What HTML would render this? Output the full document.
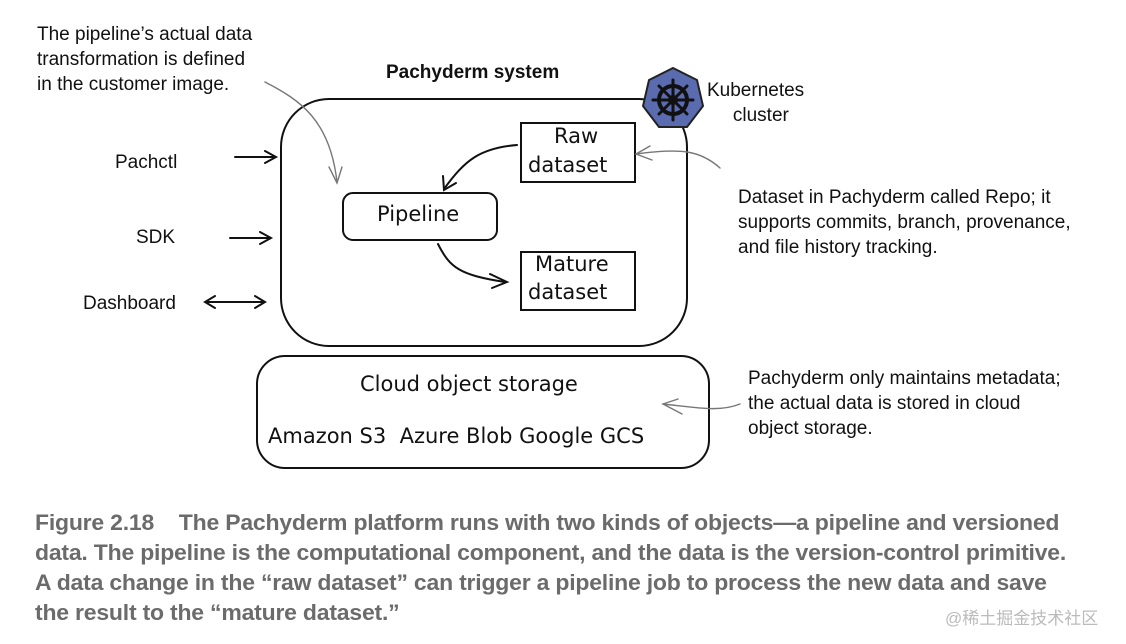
<!DOCTYPE html>
<html><head><meta charset="utf-8"><style>
body{margin:0;background:#fff;width:1126px;height:644px;overflow:hidden;position:relative;font-family:"Liberation Sans",sans-serif;}
.t{position:absolute;font-size:19px;color:#111;line-height:25px;white-space:nowrap}
.h{position:absolute;font-family:"DejaVu Sans",sans-serif;font-size:21px;color:#111;white-space:nowrap}
.cap{position:absolute;left:35px;font-weight:bold;font-size:22px;color:#6b6b6b;white-space:nowrap;transform-origin:0 0;transform:scaleX(1.045);letter-spacing:-0.2px}
</style></head><body>
<svg width="1126" height="644" style="position:absolute;left:0;top:0" fill="none" stroke="#111" stroke-width="2" stroke-linecap="round">
<rect x="281" y="99" width="406" height="247" rx="48"/>
<rect x="521" y="123" width="114" height="59"/>
<rect x="343" y="193" width="154" height="47" rx="10"/>
<rect x="521" y="252" width="114" height="58"/>
<rect x="257" y="356" width="452" height="112" rx="28"/>
<path d="M517 145 C480 148 465 160 444 189"/><path d="M443 176 L444 190 L456 183"/>
<path d="M438 244 C450 268 460 275 505 282"/><path d="M490 274 L507 282 L492 288"/>
<path d="M235 157 L275 157 M265 151 L276 157 L265 163"/>
<path d="M230 238 L270 238 M260 232 L271 238 L260 244"/>
<path d="M205 302 L265 302 M215 296 L205 302 L215 308 M255 296 L265 302 L255 308"/>
<g stroke="#777" stroke-width="1.4">
<path d="M265 82 C300 100 330 120 337 182"/><path d="M329 167 L337 183 L342 167"/>
<path d="M720 168 C700 150 680 148 636 154"/><path d="M650 146 L636 154 L652 160"/>
<path d="M740 404 C720 412 700 408 663 404"/><path d="M678 399 L663 404 L682 414"/>
</g>
<polygon points="673,68 697,80 703,106 687,127 659,127 643,106 649,80" fill="#5a6bb0" stroke="#222" stroke-width="2"/>
<circle cx="673" cy="100" r="14" stroke="#111" stroke-width="4"/>
<g stroke="#111" stroke-width="3"><path d="M673 80 L673 120 M653 100 L693 100 M659 86 L687 114 M687 86 L659 114"/></g>
<circle cx="673" cy="100" r="4" fill="#111"/>
</svg>
<div class="t" style="left:37px;top:22px">The pipeline’s actual data<br>transformation is defined<br>in the customer image.</div>
<div class="t" style="left:386px;top:60px;font-weight:bold">Pachyderm system</div>
<div class="t" style="left:707px;top:78px;text-align:center">Kubernetes<br>&nbsp;&nbsp;cluster</div>
<div class="t" style="left:115px;top:150px">Pachctl</div>
<div class="t" style="left:136px;top:225px">SDK</div>
<div class="t" style="left:83px;top:291px">Dashboard</div>
<div class="t" style="left:738px;top:185px">Dataset in Pachyderm called Repo; it<br>supports commits, branch, provenance,<br>and file history tracking.</div>
<div class="t" style="left:748px;top:366px">Pachyderm only maintains metadata;<br>the actual data is stored in cloud<br>object storage.</div>
<div class="h" style="left:554px;top:124px">Raw</div>
<div class="h" style="left:528px;top:153px">dataset</div>
<div class="h" style="left:377px;top:202px">Pipeline</div>
<div class="h" style="left:535px;top:252px">Mature</div>
<div class="h" style="left:528px;top:280px">dataset</div>
<div class="h" style="left:360px;top:372px">Cloud object storage</div>
<div class="h" style="left:268px;top:424px">Amazon S3&nbsp; Azure Blob Google GCS</div>
<div class="cap" style="top:510px">Figure 2.18&nbsp;&nbsp;&nbsp; The Pachyderm platform runs with two kinds of objects—a pipeline and versioned</div>
<div class="cap" style="top:540px">data. The pipeline is the computational component, and the data is the version-control primitive.</div>
<div class="cap" style="top:570px">A data change in the “raw dataset” can trigger a pipeline job to process the new data and save</div>
<div class="cap" style="top:600px">the result to the “mature dataset.”</div>
<div style="position:absolute;left:945px;top:604px;font-size:17px;color:#bbb;font-family:'Liberation Sans','Noto Sans CJK SC',sans-serif">@稀土掘金技术社区</div>
</body></html>
